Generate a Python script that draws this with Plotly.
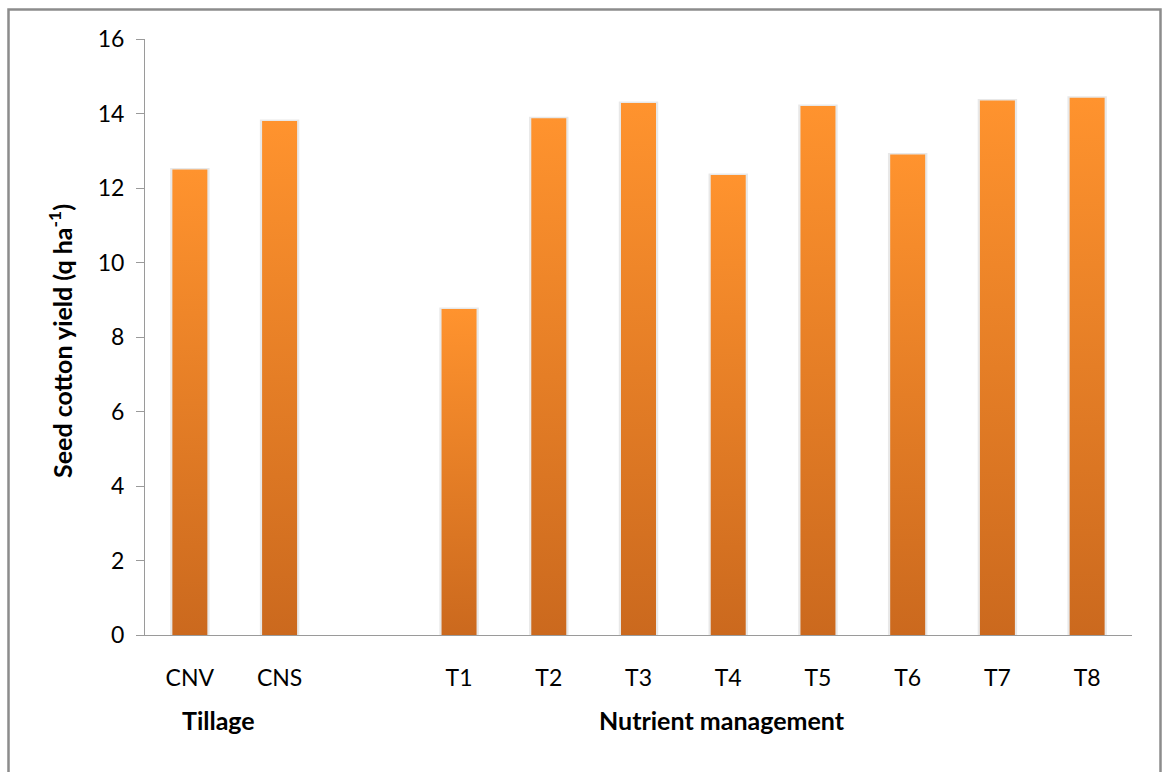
import plotly.graph_objects as go

# Seed cotton yield by treatment
categories = ["CNV", "CNS", "", "T1", "T2", "T3", "T4", "T5", "T6", "T7", "T8"]
yield_q_ha = [12.5, 13.8, None, 8.75, 13.87, 14.28, 12.35, 14.2, 12.9, 14.35, 14.42]
y_ticks = [0, 2, 4, 6, 8, 10, 12, 14, 16]

W, H = 1168, 772
ML, MR, MT, MB = 145, 36, 39, 137
BAR_W = 0.39
FONT = "Lato, 'Open Sans', sans-serif"
TOP_COLOR = "#FF932E"
BOTTOM_COLOR = "#CB691E"

fig = go.Figure()
xpos = list(range(len(categories)))

for x, v in zip(xpos, yield_q_ha):
    if v is None:
        continue
    x0, x1 = x - BAR_W / 2, x + BAR_W / 2
    # soft shadow behind the bar
    fig.add_trace(go.Scatter(
        x=[x0 - 0.025, x1 + 0.025, x1 + 0.025, x0 - 0.025, x0 - 0.025],
        y=[0, 0, v + 0.04, v + 0.04, 0],
        mode="lines", line=dict(width=0), fill="toself",
        fillcolor="rgba(0,0,0,0.09)", hoverinfo="skip", showlegend=False,
    ))
    fig.add_trace(go.Scatter(
        x=[x0, x1, x1, x0, x0],
        y=[0, 0, v, v, 0],
        mode="lines", line=dict(width=0), fill="toself",
        fillgradient=dict(type="vertical",
                          colorscale=[[0, BOTTOM_COLOR], [1, TOP_COLOR]]),
        hoverinfo="skip", showlegend=False,
    ))

plot_w = W - ML - MR
plot_h = H - MT - MB

def px_x(p):
    return (p - ML) / plot_w

def px_y(p):
    return (H - MB - p) / plot_h

fig.update_layout(
    width=W, height=H,
    margin=dict(l=ML, r=MR, t=MT, b=MB, pad=0),
    paper_bgcolor="white", plot_bgcolor="white",
    font=dict(family=FONT, color="#000000", size=23),
    xaxis=dict(
        range=[-0.5, len(categories) - 0.5],
        tickvals=xpos, ticktext=categories,
        ticks="outside", ticklen=22, tickcolor="rgba(0,0,0,0)",
        showline=True, linecolor="#9a9a9a", linewidth=1,
        showgrid=False, zeroline=False, fixedrange=True,
        tickfont=dict(size=23),
    ),
    yaxis=dict(
        range=[0, 16], tickvals=y_ticks,
        ticks="outside", ticklen=8, tickcolor="#9a9a9a",
        ticklabelstandoff=7,
        showline=True, linecolor="#9a9a9a", linewidth=1,
        showgrid=False, zeroline=False, fixedrange=True,
        tickfont=dict(size=23),
    ),
    shapes=[dict(
        type="rect", xref="paper", yref="paper",
        x0=px_x(8.5), x1=px_x(1160.5), y0=px_y(9.5), y1=px_y(790),
        line=dict(color="#8c8c8c", width=2.5), fillcolor="rgba(0,0,0,0)",
        layer="below",
    )],
    annotations=[
        dict(text="<b>Seed cotton yield (q ha<sup>-1</sup>)</b>", textangle=-90,
             xref="paper", yref="paper", x=px_x(60), y=px_y(341),
             showarrow=False, font=dict(size=25, family=FONT),
             xanchor="center", yanchor="middle"),
        dict(text="<b>Tillage</b>", xref="paper", yref="paper",
             x=px_x(218), y=px_y(720), showarrow=False,
             font=dict(size=25), xanchor="center", yanchor="middle"),
        dict(text="<b>Nutrient management</b>", xref="paper", yref="paper",
             x=px_x(722), y=px_y(720), showarrow=False,
             font=dict(size=25), xanchor="center", yanchor="middle"),
    ],
)

fig.write_html("out.html")
